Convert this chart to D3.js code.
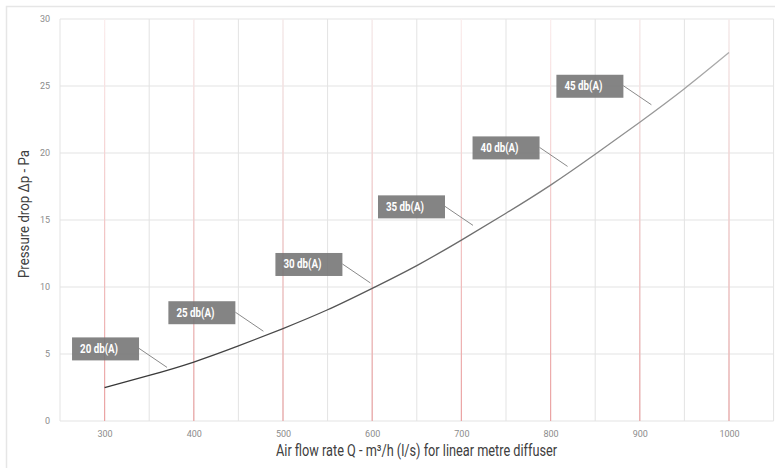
<!DOCTYPE html>
<html>
<head>
<meta charset="utf-8">
<script src="https://cdn.jsdelivr.net/npm/d3@7"></script>
<style>
  html, body { margin: 0; padding: 0; background: #fff; }
  svg { display: block; }
  .narrow { font-family: "Roboto", sans-serif; }
</style>
</head>
<body>
<svg id="chart" width="775" height="468"></svg>
<script>
// ---- data ----
const flow = [300, 350, 400, 450, 500, 550, 600, 650, 700, 750, 800, 850, 900, 950, 1000];
const pressure = [2.5, 3.4, 4.4, 5.6, 6.9, 8.3, 9.9, 11.6, 13.5, 15.5, 17.6, 19.9, 22.3, 24.8, 27.5];
const markerFlows = [300, 400, 500, 600, 700, 800, 900, 1000];
const noiseLabels = ["20 db(A)", "25 db(A)", "30 db(A)", "35 db(A)", "40 db(A)", "45 db(A)"];
const noiseFlows = [370, 478, 598, 713, 819, 913];
const noisePressures = [4.0, 6.7, 10.3, 14.6, 19.0, 23.6];
const xTicks = [300, 400, 500, 600, 700, 800, 900, 1000];
const yTicks = [0, 5, 10, 15, 20, 25, 30];
const xGrid = d3.range(250, 1051, 50);

const svg = d3.select("#chart");
const x = d3.scaleLinear().domain([250, 1050]).range([60, 773.6]);
const y = d3.scaleLinear().domain([0, 30]).range([421, 19]);

// outer border
svg.append("path")
  .attr("d", "M6.5,468 L6.5,6.5 L775,6.5")
  .attr("fill", "none").attr("stroke", "#e6e6e6").attr("stroke-width", 1.5);

const defs = svg.append("defs");
const rg = defs.append("linearGradient").attr("id", "redfade")
  .attr("gradientUnits", "userSpaceOnUse")
  .attr("x1", 0).attr("y1", y(0)).attr("x2", 0).attr("y2", y(30));
rg.append("stop").attr("offset", "0%").attr("stop-color", "#eba3a3");
rg.append("stop").attr("offset", "100%").attr("stop-color", "#fbeeee");

const lg = defs.append("linearGradient").attr("id", "linefade")
  .attr("gradientUnits", "userSpaceOnUse")
  .attr("x1", 0).attr("y1", y(2)).attr("x2", 0).attr("y2", y(28));
lg.append("stop").attr("offset", "0%").attr("stop-color", "#333");
lg.append("stop").attr("offset", "100%").attr("stop-color", "#b0b0b0");

// horizontal grid
svg.append("g").selectAll("line").data(yTicks).join("line")
  .attr("x1", x(250)).attr("x2", x(1050))
  .attr("y1", d => y(d)).attr("y2", d => y(d))
  .attr("stroke", "#e3e3e3").attr("stroke-width", 1);

// vertical grid
svg.append("g").selectAll("line").data(xGrid).join("line")
  .attr("x1", d => x(d)).attr("x2", d => x(d))
  .attr("y1", y(0)).attr("y2", y(30))
  .attr("stroke", "#e3e3e3").attr("stroke-width", 1);

// red marker lines
svg.append("g").selectAll("line").data(markerFlows).join("line")
  .attr("x1", d => x(d)).attr("x2", d => x(d))
  .attr("y1", y(0)).attr("y2", y(30))
  .attr("stroke", "url(#redfade)").attr("stroke-width", 1.2);

// axes tick labels
const yAxis = d3.axisLeft(y).tickValues(yTicks).tickSize(0).tickPadding(0).tickFormat(d3.format("d"));
const gy = svg.append("g").attr("transform", `translate(50,0)`).call(yAxis);
gy.select(".domain").remove();
gy.selectAll("text").attr("fill", "#8c8c8c").attr("font-size", 9)
  .attr("font-family", "Roboto, sans-serif").attr("dy", "0.32em");

const xAxis = d3.axisBottom(x).tickValues(xTicks).tickSize(0).tickPadding(0).tickFormat(d3.format("d"));
const gx = svg.append("g").attr("transform", `translate(0,431)`).call(xAxis);
gx.select(".domain").remove();
gx.selectAll("text").attr("fill", "#8c8c8c").attr("font-size", 9)
  .attr("font-family", "Roboto, sans-serif");

// curve
const pts = flow.map((f, i) => [f, pressure[i]]);
svg.append("path").datum(pts)
  .attr("d", d3.line().x(d => x(d[0])).y(d => y(d[1])).curve(d3.curveNatural))
  .attr("fill", "none").attr("stroke", "url(#linefade)").attr("stroke-width", 1.3);

// labels
const lab = svg.append("g");
noiseLabels.forEach((t, i) => {
  const px = x(noiseFlows[i]), py = y(noisePressures[i]);
  const bx = px - 28 - 67, by = py - 30;
  lab.append("line").attr("x1", px - 28).attr("y1", py - 19).attr("x2", px).attr("y2", py)
    .attr("stroke", "#8a8a8a").attr("stroke-width", 1);
  lab.append("rect").attr("x", bx).attr("y", by).attr("width", 67).attr("height", 23)
    .attr("fill", "#737373").attr("fill-opacity", 0.88);
  lab.append("text").attr("class", "narrow").attr("x", bx + 8).attr("y", by + 15.5)
    .attr("fill", "#fff").attr("font-size", 12).attr("font-weight", "bold")
    .attr("textLength", 38).attr("lengthAdjust", "spacingAndGlyphs").text(t);
});

// axis titles
svg.append("text").attr("class", "narrow")
  .attr("x", 276).attr("y", 456)
  .attr("font-size", 16).attr("fill", "#404040")
  .attr("textLength", 281).attr("lengthAdjust", "spacingAndGlyphs")
  .text("Air flow rate Q - m³/h (l/s) for linear metre diffuser");
svg.append("text").attr("class", "narrow")
  .attr("transform", "translate(29,278) rotate(-90)")
  .attr("font-size", 15.5).attr("fill", "#404040")
  .attr("textLength", 128).attr("lengthAdjust", "spacingAndGlyphs")
  .text("Pressure drop Δp - Pa");
</script>
</body>
</html>
